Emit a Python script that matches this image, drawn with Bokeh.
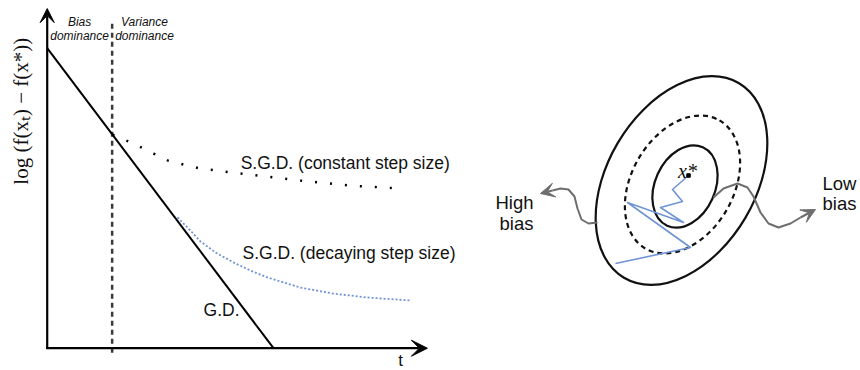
import math
from bokeh.plotting import figure
from bokeh.layouts import row
from bokeh.models import Range1d, Arrow, VeeHead
from bokeh.core.properties import value
from bokeh.embed import file_html
from bokeh.resources import INLINE

# ---------------- left panel: log suboptimality vs iterations ----------------
gd_t = [0.0, 10.0]
gd_loss = [10.0, 0.0]
sgd_const_t = [2.89, 3.81, 4.70, 5.32, 6.02, 6.77, 8.10, 11.19, 13.40, 15.70]
sgd_const_loss = [7.12, 6.82, 6.49, 6.26, 6.12, 5.99, 5.86, 5.59, 5.42, 5.32]
sgd_decay_t = [5.76, 6.33, 6.77, 7.44, 8.23, 8.98, 9.73, 11.19, 12.65, 14.15, 16.05]
sgd_decay_loss = [4.36, 3.92, 3.56, 3.19, 2.86, 2.59, 2.36, 2.02, 1.82, 1.69, 1.59]
regime_split_t = 2.87
t_axis_end = 16.8
loss_axis_end = 11.32

curve_labels = ["S.G.D. (constant step size)", "S.G.D. (decaying step size)", "G.D."]
regime_labels_top = ["Bias", "Variance"]
regime_labels_bottom = ["dominance", "dominance"]
y_label = "log (f(x\u209c) \u2212 f(x*))"
x_label = "t"

# ---------------- right panel: contours of the objective ----------------
contour_cx = [-0.7, -0.6, -0.35]
contour_cy = [-0.5, -0.9, -1.1]
contour_w = [22.6, 14.8, 8.6]
contour_h = [14.8, 10.2, 6.0]
contour_angle = [59.4, 60.0, 65.5]

sgd_path_w1 = [-7.3, 0.2, -6.1, -0.5, -2.8, -0.6, -1.6, 0.0]
sgd_path_w2 = [-8.8, -7.2, -2.7, -4.7, -3.2, -2.6, -1.4, 0.0]

high_bias_w1 = [-9.1, -10.0, -10.7, -11.1, -11.4, -12.0, -12.8, -13.6, -14.8]
high_bias_w2 = [-4.7, -4.8, -4.4, -3.3, -2.1, -1.4, -1.3, -1.5, -1.8]
low_bias_w1 = [2.5, 3.5, 4.9, 5.9, 6.5, 7.2, 8.0, 9.0, 10.2, 11.2, 12.7]
low_bias_w2 = [-2.2, -1.3, -0.8, -1.2, -2.1, -3.7, -4.8, -5.2, -4.8, -4.2, -3.4]

optimum_w1 = [0.0]
optimum_w2 = [0.0]

SANS = value("Liberation Sans")
SERIF = value("Liberation Serif")
BLUE = "#7094d4"
GRAY = "#6e6e6e"


def blank_fig(w, h, xr, yr):
    f = figure(width=w, height=h, x_range=Range1d(*xr), y_range=Range1d(*yr),
               output_backend="svg", toolbar_location=None,
               x_axis_type=None, y_axis_type=None, min_border=0,
               outline_line_color=None, background_fill_color="white",
               border_fill_color="white")
    return f


left = blank_fig(478, 370, (-2.064, 19.059), (-0.743, 11.59))

# axes with arrowheads
left.add_layout(Arrow(end=VeeHead(size=16, fill_color="black", line_color="black"),
                      x_start=-0.05, y_start=gd_loss[1], x_end=t_axis_end, y_end=gd_loss[1],
                      line_width=2.2, line_color="black"))
left.add_layout(Arrow(end=VeeHead(size=14, fill_color="black", line_color="black"),
                      x_start=gd_t[0], y_start=-0.03, x_end=gd_t[0], y_end=loss_axis_end,
                      line_width=2.2, line_color="black"))

# regime split
left.line([regime_split_t, regime_split_t], [-0.15, 10.92], line_color="#3a3a3a",
          line_width=2.5, line_dash="5 4")

# curves
left.line(gd_t, gd_loss, line_color="black", line_width=2)
left.line(sgd_const_t, sgd_const_loss, line_color="black", line_width=2.5,
          line_dash="2 13")
left.line(sgd_decay_t, sgd_decay_loss, line_color=BLUE, line_width=1.8,
          line_dash="2 2")

left.text(x=[8.55, 8.63], y=[6.19, 3.16], text=curve_labels[:2], text_font=SANS,
          text_font_size="17.5px", text_align="left", text_baseline="middle",
          text_color="#111111")
left.text(x=[6.91], y=[1.29], text=curve_labels[2:], text_font=SANS,
          text_font_size="17.5px", text_align="left", text_baseline="middle",
          text_color="#111111")
left.text(x=[1.43, 4.30], y=[10.86, 10.86], text=regime_labels_top, text_font=SANS,
          text_font_size="12px", text_font_style="italic", text_align="center",
          text_baseline="middle", text_color="#111111")
left.text(x=[1.43, 4.30], y=[10.42, 10.42], text=regime_labels_bottom, text_font=SANS,
          text_font_size="12px", text_font_style="italic", text_align="center",
          text_baseline="middle", text_color="#111111")
left.text(x=[15.62], y=[-0.41], text=[x_label], text_font=SANS,
          text_font_size="17px", text_align="center", text_baseline="middle",
          text_color="#111111")
left.text(x=[-1.18], y=[7.9], text=[y_label], text_font=SERIF,
          text_font_size="21px", text_align="center", text_baseline="middle",
          angle=math.pi / 2, text_color="#111111")

# ---------------- right panel ----------------
right = blank_fig(382, 370, (-21.0, 17.2), (-19.5, 17.5))

right.ellipse(x=[contour_cx[0], contour_cx[2]], y=[contour_cy[0], contour_cy[2]],
              width=[contour_w[0], contour_w[2]], height=[contour_h[0], contour_h[2]],
              angle=[contour_angle[0], contour_angle[2]], angle_units="deg",
              fill_color=None, line_color="#111111", line_width=2.2)
right.ellipse(x=[contour_cx[1]], y=[contour_cy[1]], width=[contour_w[1]],
              height=[contour_h[1]], angle=[contour_angle[1]], angle_units="deg",
              fill_color=None, line_color="#111111", line_width=2.2, line_dash="5 4")

# wavy arrows
right.line(high_bias_w1[:-1], high_bias_w2[:-1], line_color=GRAY, line_width=2,
           line_join="round")
right.add_layout(Arrow(end=VeeHead(size=14, fill_color=GRAY, line_color=GRAY),
                       x_start=high_bias_w1[-2], y_start=high_bias_w2[-2],
                       x_end=high_bias_w1[-1], y_end=high_bias_w2[-1],
                       line_color=GRAY, line_width=2))
right.line(low_bias_w1[:-1], low_bias_w2[:-1], line_color=GRAY, line_width=2,
           line_join="round")
right.add_layout(Arrow(end=VeeHead(size=14, fill_color=GRAY, line_color=GRAY),
                       x_start=low_bias_w1[-2], y_start=low_bias_w2[-2],
                       x_end=low_bias_w1[-1], y_end=low_bias_w2[-1],
                       line_color=GRAY, line_width=2))

# SGD iterates
right.line(sgd_path_w1, sgd_path_w2, line_color=BLUE, line_width=1.6,
           line_join="round")
right.scatter(optimum_w1, optimum_w2, size=3.5, marker="square", color="black")
right.text(x=[-0.1], y=[0.45], text=["x*"], text_font=SERIF, text_font_style="italic",
           text_font_size="20px", text_align="center", text_baseline="alphabetic",
           text_color="#111111")

right.text(x=[-15.5, -15.5], y=[-2.7, -4.8], text=["High", "bias"], text_font=SANS,
           text_font_size="18.5px", text_align="right", text_baseline="middle",
           text_color="#111111")
right.text(x=[13.4, 13.4], y=[-0.8, -2.8], text=["Low", "bias"], text_font=SANS,
           text_font_size="18.5px", text_align="left", text_baseline="middle",
           text_color="#111111")

layout = row(left, right)
open("out.html", "w").write(file_html(layout, INLINE))
